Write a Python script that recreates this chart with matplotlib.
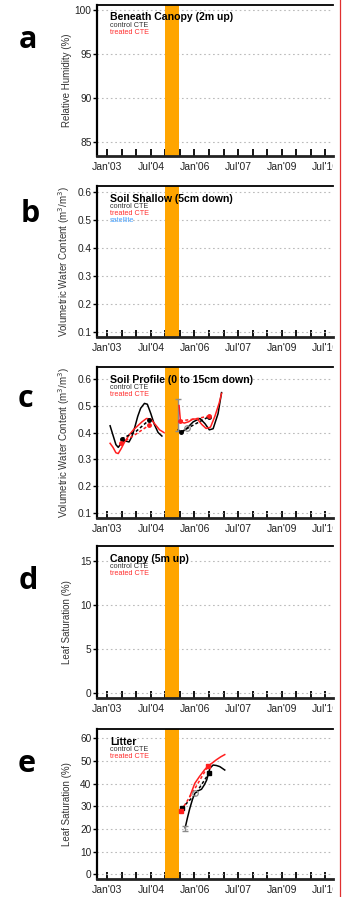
import numpy as np
import matplotlib
matplotlib.use("Agg")
import matplotlib.pyplot as plt
from matplotlib.lines import Line2D
from matplotlib.transforms import Bbox, TransformedBbox

plt.rcParams['font.family'] = ['Liberation Sans', 'DejaVu Sans']

# x axis is decimal years
tick_pos = [2003.0, 2004.5, 2006.0, 2007.5, 2009.0, 2010.5]
tick_labels = ["Jan'03", "Jul'04", "Jan'06", "Jul'07", "Jan'09", "Jul'10"]
treatment = (2004.98, 2005.46)

# panel settings
letters = ['a', 'b', 'c', 'd', 'e']
titles = ['Beneath Canopy (2m up)', 'Soil Shallow (5cm down)',
          'Soil Profile (0 to 15cm down)', 'Canopy (5m up)', 'Litter']
ylabels = ['Relative Humidity (%)', 'Volumetric Water Content (m$^3$/m$^3$)',
           'Volumetric Water Content (m$^3$/m$^3$)', 'Leaf Saturation (%)',
           'Leaf Saturation (%)']
yticks = [[85, 90, 95, 100], [0.1, 0.2, 0.3, 0.4, 0.5, 0.6],
          [0.1, 0.2, 0.3, 0.4, 0.5, 0.6], [0, 5, 10, 15],
          [0, 10, 20, 30, 40, 50, 60]]
ylims = [(83.4, 100.6), (0.081, 0.62), (0.083, 0.643), (-0.6, 16.67), (-2.1, 64.1)]

# panel c - soil profile
c_ctl1_t = [2003.10, 2003.20, 2003.30, 2003.38, 2003.48, 2003.55, 2003.65, 2003.75, 2003.85,
            2003.95, 2004.05, 2004.15, 2004.28, 2004.38, 2004.50, 2004.62, 2004.75, 2004.88]
c_ctl1_v = [0.425, 0.39, 0.355, 0.345, 0.36, 0.372, 0.368, 0.365, 0.385,
            0.42, 0.46, 0.49, 0.508, 0.505, 0.47, 0.43, 0.40, 0.387]
c_trt1_t = [2003.10, 2003.20, 2003.30, 2003.38, 2003.48, 2003.60, 2003.75, 2003.90,
            2004.05, 2004.20, 2004.35, 2004.50, 2004.65, 2004.80, 2004.95]
c_trt1_v = [0.36, 0.345, 0.325, 0.322, 0.34, 0.365, 0.39, 0.41,
            0.425, 0.44, 0.452, 0.45, 0.43, 0.41, 0.40]
c_ctl2_t = [2005.44, 2005.56, 2005.73, 2005.96, 2006.19, 2006.36, 2006.51, 2006.64, 2006.81, 2006.93]
c_ctl2_v = [0.41, 0.40, 0.415, 0.44, 0.452, 0.433, 0.41, 0.414, 0.47, 0.548]
c_trt2_t = [2005.47, 2005.52, 2005.65, 2005.80, 2005.95, 2006.10, 2006.25, 2006.40,
            2006.55, 2006.70, 2006.85, 2006.93]
c_trt2_v = [0.50, 0.44, 0.435, 0.44, 0.45, 0.45, 0.43, 0.415, 0.42, 0.46, 0.51, 0.545]
c_ctl_pts_t = [[2003.50, 2004.00, 2004.45], [2005.55, 2006.00, 2006.50]]
c_ctl_pts_v = [[0.376, 0.405, 0.447], [0.403, 0.43, 0.459]]
c_trt_pts_t = [[2003.48, 2004.00, 2004.45], [2005.50, 2006.00, 2006.50]]
c_trt_pts_v = [[0.360, 0.395, 0.428], [0.443, 0.45, 0.461]]
c_err_t, c_err_v, c_err_e = 2005.45, 0.466, 0.06
c_open_t, c_open_v = [2005.73], [0.418]

# panel e - litter
e_ctl_t = [2005.68, 2005.76, 2005.84, 2005.93, 2006.01, 2006.12, 2006.24, 2006.34,
           2006.42, 2006.53, 2006.64, 2006.75, 2006.87, 2007.04]
e_ctl_v = [20.5, 25.0, 29.1, 33.0, 35.7, 36.8, 37.5, 39.5, 41.6, 46.8, 48.2, 48.0, 47.5, 46.0]
e_trt_t = [2005.84, 2006.01, 2006.17, 2006.34, 2006.47, 2006.62, 2006.75, 2006.90, 2007.04]
e_trt_v = [34.3, 40.1, 43.1, 46.0, 47.8, 49.2, 50.5, 51.8, 52.8]
e_ctl_pts_t = [2005.56, 2006.01, 2006.50]
e_ctl_pts_v = [29.1, 35.0, 44.6]
e_trt_pts_t = [2005.54, 2006.00, 2006.47]
e_trt_pts_v = [28.0, 37.5, 47.8]
e_err_t, e_err_v, e_err_e = 2005.67, 20.3, 1.2
e_open_t, e_open_v = [2006.01], [35.7]

black = '#000000'
red = '#ff1f1f'
grey = '#8c8c8c'

fig = plt.figure(figsize=(3.45, 8.97), dpi=100)
W, H = 345.0, 897.0
tops = [5, 186, 367, 546, 729]
bottoms = [156, 337, 518, 698, 879]
letter_x = [19, 21, 18, 19, 18]
letter_base = [48, 222, 407, 589, 772]
left_px, right_px = 97, 333

clip = TransformedBbox(Bbox([[0, 0], [right_px / W, 1]]), fig.transFigure)

axes = []
for i in range(5):
    ax = fig.add_axes([left_px / W, 1 - bottoms[i] / H, (right_px - left_px) / W,
                       (bottoms[i] - tops[i]) / H])
    axes.append(ax)
    ax.set_xlim(2002.65, 2010.76)
    ax.set_ylim(*ylims[i])
    ax.axvspan(*treatment, color='#ffa500', lw=0, zorder=1)

    ax.set_axisbelow(True)
    ax.yaxis.grid(True, linestyle=(0, (1.5, 2.5)), color='#bbbbbb', lw=0.8)

    ax.spines['right'].set_visible(False)
    ax.spines['top'].set_linewidth(1.3)
    ax.spines['left'].set_linewidth(1.6)
    ax.spines['bottom'].set_linewidth(2.0)
    ax.spines['bottom'].set_color('#222222')

    ax.set_xticks(tick_pos)
    ax.set_xticklabels(tick_labels, fontsize=7.5, color='#222222')
    ax.set_xticks(np.arange(2003.0, 2010.6, 0.5), minor=True)
    ax.tick_params(axis='x', which='both', direction='in', length=5, width=1.3, pad=4)
    for lbl in ax.get_xticklabels():
        lbl.set_clip_on(True)
        lbl.set_clip_box(clip)

    ax.set_yticks(yticks[i])
    ax.tick_params(axis='y', direction='out', length=3, width=1.0, pad=1, labelsize=7.3,
                   labelcolor='#222222')

    ax.set_ylabel(ylabels[i], fontsize=7, color='#333333')
    ax.yaxis.set_label_coords(-0.105, 0.5)

    ax.annotate(titles[i], xy=(0.055, 1), xycoords='axes fraction',
                xytext=(0, -12.5 * 0.72), textcoords='offset points',
                fontsize=7.6, fontweight='bold', va='center', ha='left')
    ax.annotate('control CTE', xy=(0.055, 1), xycoords='axes fraction',
                xytext=(0, -20.5 * 0.72), textcoords='offset points',
                fontsize=5.2, color='#333333', va='center', ha='left')
    ax.annotate('treated CTE', xy=(0.055, 1), xycoords='axes fraction',
                xytext=(0, -27.5 * 0.72), textcoords='offset points',
                fontsize=5.2, color='#ff3030', va='center', ha='left')
    if i == 1:
        ax.annotate('satellite', xy=(0.055, 1), xycoords='axes fraction',
                    xytext=(0, -34.5 * 0.72), textcoords='offset points',
                    fontsize=5.2, color='#4aa3ff', va='center', ha='left')

    fig.text(letter_x[i] / W, 1 - letter_base[i] / H, letters[i], fontsize=22,
             fontweight='bold', family='Open Sans', ha='left', va='baseline')

# panel c lines
ax = axes[2]
ax.plot(c_ctl1_t, c_ctl1_v, color=black, lw=1.1, zorder=3)
ax.plot(c_ctl2_t, c_ctl2_v, color=black, lw=1.1, zorder=3)
ax.plot(c_trt1_t, c_trt1_v, color=red, lw=1.1, zorder=4)
ax.plot(c_trt2_t, c_trt2_v, color=red, lw=1.1, zorder=4)
for k in range(2):
    ax.plot(c_ctl_pts_t[k], c_ctl_pts_v[k], color=black, lw=1.1, ls=(0, (2, 1.5)), zorder=5)
    ax.plot([c_ctl_pts_t[k][0], c_ctl_pts_t[k][-1]], [c_ctl_pts_v[k][0], c_ctl_pts_v[k][-1]],
            'o', color=black, ms=2.5, zorder=6)
    ax.plot(c_trt_pts_t[k], c_trt_pts_v[k], color=red, lw=1.1, ls=(0, (2, 1.5)), zorder=5)
    ax.plot([c_trt_pts_t[k][0], c_trt_pts_t[k][-1]], [c_trt_pts_v[k][0], c_trt_pts_v[k][-1]],
            'o', color=red, ms=2.5, zorder=6)
ax.errorbar([c_err_t], [c_err_v], yerr=[c_err_e], color=grey, lw=1.0, capsize=2.5,
            capthick=1.0, fmt='none', zorder=3)
ax.plot(c_open_t, c_open_v, 'o', mfc='none', mec=grey, ms=4, mew=0.9, zorder=6)

# panel e lines
ax = axes[4]
ax.plot(e_ctl_t, e_ctl_v, color=black, lw=1.1, zorder=3)
ax.plot(e_trt_t, e_trt_v, color=red, lw=1.1, zorder=4)
ax.plot(e_ctl_pts_t, e_ctl_pts_v, color=black, lw=1.1, ls=(0, (2, 1.5)), zorder=5)
ax.plot([e_ctl_pts_t[0], e_ctl_pts_t[-1]], [e_ctl_pts_v[0], e_ctl_pts_v[-1]], 's',
        color=black, ms=2.5, zorder=6)
ax.plot(e_trt_pts_t, e_trt_pts_v, color=red, lw=1.1, ls=(0, (2, 1.5)), zorder=5)
ax.plot([e_trt_pts_t[0], e_trt_pts_t[-1]], [e_trt_pts_v[0], e_trt_pts_v[-1]], 's',
        color=red, ms=2.5, zorder=6)
ax.errorbar([e_err_t], [e_err_v], yerr=[e_err_e], color=grey, lw=1.0, capsize=2.5,
            capthick=1.0, fmt='none', zorder=3)
ax.plot(e_open_t, e_open_v, 'o', mfc='none', mec=grey, ms=4, mew=0.9, zorder=6)

# red page edge on the right
fig.add_artist(Line2D([340 / W, 340 / W], [0, 1], color='#e03030', lw=0.9))

plt.savefig('out.png', dpi=100)
